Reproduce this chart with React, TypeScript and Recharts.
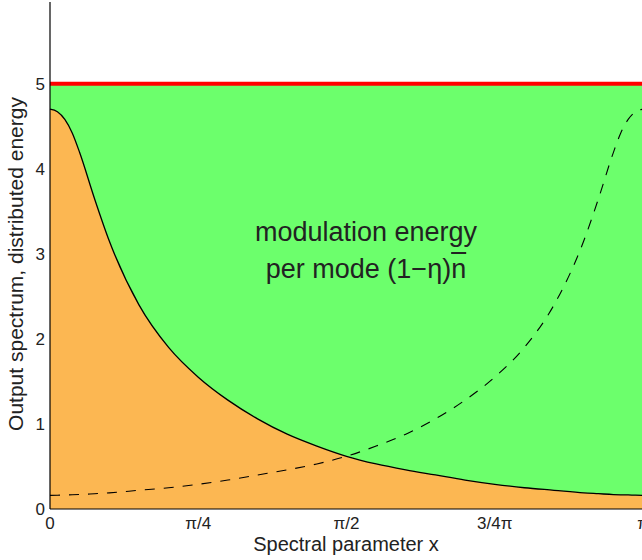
import React from 'react';
import { ComposedChart, Area, Line, XAxis, YAxis, ReferenceLine, Label } from 'recharts';

// x positions in units of π
const xPi = [0, 0.0125, 0.025, 0.0375, 0.05, 0.075, 0.1, 0.15, 0.2, 0.25, 0.3, 0.35, 0.4, 0.45, 0.5, 0.55, 0.6, 0.65, 0.7, 0.75, 0.8, 0.85, 0.9, 0.925, 0.95, 0.9625, 0.975, 0.9875, 1];
const outputSpectrum = [4.70, 4.67, 4.58, 4.42, 4.19, 3.65, 3.15, 2.40, 1.90, 1.55, 1.28, 1.06, 0.88, 0.74, 0.62, 0.53, 0.46, 0.40, 0.34, 0.29, 0.25, 0.22, 0.19, 0.18, 0.17, 0.167, 0.165, 0.162, 0.16];
const mirroredSpectrum = [0.16, 0.162, 0.165, 0.167, 0.17, 0.18, 0.19, 0.22, 0.25, 0.29, 0.34, 0.40, 0.46, 0.53, 0.62, 0.74, 0.88, 1.06, 1.28, 1.55, 1.90, 2.40, 3.15, 3.65, 4.19, 4.42, 4.58, 4.67, 4.70];
const totalEnergy = 5;

const yTicks = [0, 1, 2, 3, 4, 5];
const xTicks = [0, 0.25, 0.5, 0.75, 1];
const xTickLabels = ['0', 'π/4', 'π/2', '3/4π', 'π'];

const data = xPi.map((x, i) => ({
  x,
  spectrum: outputSpectrum[i],
  mirrored: mirroredSpectrum[i],
  total: totalEnergy,
}));

const FONT = '"Liberation Sans", Arial, Helvetica, sans-serif';

export default function App() {
  return (
    <div style={{ position: 'absolute', left: 0, top: 0, width: 642, height: 560, overflow: 'hidden', background: '#fff' }}>
      <div style={{ position: 'absolute', left: 0, top: 0 }}>
        <ComposedChart
          width={660}
          height={560}
          data={data}
          margin={{ top: 2, right: 17, bottom: 0, left: 0 }}
          style={{ fontFamily: FONT }}
        >
          <XAxis
            dataKey="x"
            type="number"
            domain={[0, 1]}
            ticks={xTicks}
            tickFormatter={(v: number) => xTickLabels[xTicks.indexOf(v)] ?? ''}
            tickLine={false}
            tickSize={0}
            tickMargin={8}
            height={51}
            axisLine={{ stroke: '#000', strokeWidth: 1.2 }}
            tick={{ fill: '#222', fontSize: 17, fontFamily: FONT }}
            interval={0}
          >
            <Label
              content={() => (
                <text x={346} y={551} textAnchor="middle" fontSize={20} fontFamily={FONT} fill="#222">
                  Spectral parameter x
                </text>
              )}
            />
          </XAxis>
          <XAxis
            xAxisId="top"
            orientation="top"
            dataKey="x"
            type="number"
            domain={[0, 1]}
            ticks={[]}
            tick={false}
            tickLine={false}
            height={0}
            axisLine={{ stroke: '#000', strokeWidth: 1.2 }}
          />
          <YAxis
            type="number"
            domain={[0, 5.96]}
            ticks={yTicks}
            tickLine={false}
            tickSize={0}
            tickMargin={5}
            width={50}
            axisLine={{ stroke: '#000', strokeWidth: 1.2 }}
            tick={{ fill: '#222', fontSize: 17, fontFamily: FONT }}
            interval={0}
            allowDataOverflow
          >
            <Label
              content={() => (
                <text
                  x={23}
                  y={264}
                  transform="rotate(-90, 23, 264)"
                  textAnchor="middle"
                  fontSize={21}
                  fontFamily={FONT}
                  fill="#222"
                >
                  Output spectrum, distributed energy
                </text>
              )}
            />
          </YAxis>
          <Area
            dataKey="total"
            type="linear"
            fill="#6cff6c"
            fillOpacity={1}
            stroke="none"
            isAnimationActive={false}
            dot={false}
            activeDot={false}
          />
          <Area
            dataKey="spectrum"
            type="monotone"
            fill="#fcb752"
            fillOpacity={1}
            stroke="#000"
            strokeWidth={1.3}
            isAnimationActive={false}
            dot={false}
            activeDot={false}
          />
          <Line
            dataKey="mirrored"
            type="monotone"
            stroke="#000"
            strokeWidth={1.1}
            strokeDasharray="10 9"
            dot={false}
            activeDot={false}
            isAnimationActive={false}
          />
          <ReferenceLine y={totalEnergy} stroke="#ff0000" strokeWidth={4} />
        </ComposedChart>
      </div>
      <div
        style={{
          position: 'absolute',
          left: 216,
          top: 214,
          width: 300,
          textAlign: 'center',
          fontFamily: FONT,
          fontSize: 27,
          lineHeight: '37px',
          color: '#222',
        }}
      >
        <div>modulation energy</div>
        <div>
          per mode (1−η)<span style={{ textDecoration: 'overline' }}>n</span>
        </div>
      </div>
    </div>
  );
}
